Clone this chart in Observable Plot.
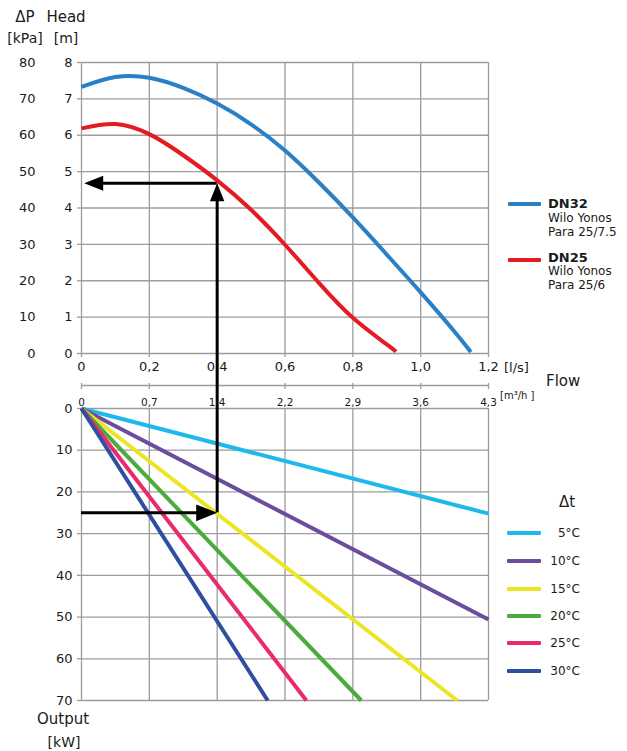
<!DOCTYPE html>
<html><head><meta charset="utf-8">
<script src="https://cdn.jsdelivr.net/npm/d3@7"></script>
<script src="https://cdn.jsdelivr.net/npm/@observablehq/plot@0.6"></script>
<style>
body{margin:0;background:#fff;}
#wrap{position:relative;width:627px;height:751px;font-family:"DejaVu Sans",sans-serif;color:#1a1a1a;overflow:hidden;background:#fff}
#wrap svg{position:absolute;left:0;overflow:visible}
.t{position:absolute;white-space:nowrap;line-height:1}
.sw{position:absolute;height:4px;border-radius:1px}
</style></head><body><div id="wrap"></div>
<script>
// ---------- data ----------
const flowTicks = [0, 0.2, 0.4, 0.6, 0.8, 1.0, 1.2];
const flowLabels = ["0", "0,2", "0,4", "0,6", "0,8", "1,0", "1,2"];
const m3hLabels = ["0", "0,7", "1,4", "2,2", "2,9", "3,6", "4,3"];
const headTicks = [0, 1, 2, 3, 4, 5, 6, 7, 8];
const kpaLabels = ["0", "10", "20", "30", "40", "50", "60", "70", "80"];
const outputTicks = [0, 10, 20, 30, 40, 50, 60, 70];

// DN32 Wilo Yonos Para 25/7.5
const dn32Flow = [0, 0.1, 0.2, 0.3, 0.4, 0.5, 0.6, 0.7, 0.8, 0.9, 1.0, 1.1, 1.148];
const dn32Head = [7.33, 7.6, 7.58, 7.3, 6.87, 6.3, 5.58, 4.7, 3.74, 2.72, 1.68, 0.6, 0.04];
// DN25 Wilo Yonos Para 25/6
const dn25Flow = [0, 0.1, 0.2, 0.3, 0.4, 0.5, 0.6, 0.7, 0.8, 0.9, 0.927];
const dn25Head = [6.19, 6.31, 6.03, 5.45, 4.76, 3.95, 2.99, 1.94, 0.98, 0.25, 0.05];

// Output lines per Δt (start at origin, end point)
const dtLabels = ["5°C", "10°C", "15°C", "20°C", "25°C", "30°C"];
const dtEndFlow = [1.2, 1.2, 1.108, 0.825, 0.663, 0.549];
const dtEndOutput = [25.2, 50.6, 70, 70, 70, 70];

// Example duty point
const dutyFlow = 0.4;
const dutyHead = 4.68;
const dutyOutput = 25;

// ---------- styles ----------
const dtColors = ["#1fb8ec", "#6b4d9e", "#ebe524", "#4bab3d", "#ea2a6e", "#2e4f9f"];
const blueColor = "#2a80c6";
const redColor = "#e31b23";
const gridColor = "#9c9c9c";
const FONT = "DejaVu Sans";

const arrowHead = {
  draw(ctx, size) {
    const L = Math.sqrt(size / Math.PI);
    ctx.moveTo(0, 0);
    ctx.lineTo(-0.4 * L, L);
    ctx.lineTo(0.4 * L, L);
    ctx.closePath();
  }
};

const wrap = document.getElementById("wrap");

// ---------- top chart ----------
const dn32 = dn32Flow.map((f, i) => ({flow: f, head: dn32Head[i]}));
const dn25 = dn25Flow.map((f, i) => ({flow: f, head: dn25Head[i]}));
const gridOpts = {stroke: gridColor, strokeOpacity: 1, strokeWidth: 1.3};

const top1 = Plot.plot({
  width: 627, height: 378,
  marginLeft: 81, marginRight: 139, marginTop: 62, marginBottom: 25,
  x: {domain: [0, 1.2], label: null},
  y: {domain: [0, 8], label: null},
  style: {fontFamily: FONT, fontSize: "13px", color: "#1a1a1a", background: "transparent", overflow: "visible"},
  marks: [
    Plot.gridX(flowTicks, gridOpts),
    Plot.gridY(headTicks, gridOpts),
    Plot.axisX(flowTicks, {anchor: "bottom", tickSize: 4, tickPadding: 4, stroke: gridColor, strokeWidth: 1.3,
      tickFormat: d => flowLabels[flowTicks.indexOf(d)], fontSize: 13, label: null}),
    Plot.axisY(headTicks, {anchor: "left", tickSize: 4, tickPadding: 5, stroke: gridColor, strokeWidth: 1.3, fontSize: 13, label: null}),
    Plot.text(headTicks, {y: d => d, text: (d, i) => kpaLabels[i], frameAnchor: "left", textAnchor: "end", dx: -46, fontSize: 13}),
    Plot.line(dn32, {x: "flow", y: "head", stroke: blueColor, strokeWidth: 4, curve: "natural", strokeLinecap: "butt"}),
    Plot.line(dn25, {x: "flow", y: "head", stroke: redColor, strokeWidth: 4, curve: "natural", strokeLinecap: "butt"}),
    Plot.ruleY([dutyHead], {x1: 0.03, x2: dutyFlow, stroke: "black", strokeWidth: 3}),
    Plot.ruleX([dutyFlow], {y1: 0, y2: dutyHead - 0.2, stroke: "black", strokeWidth: 3}),
    Plot.dot([{flow: 0.008, head: dutyHead}], {x: "flow", y: "head", symbol: arrowHead, r: 19, rotate: -90, fill: "black", stroke: "none"}),
    Plot.dot([{flow: dutyFlow, head: dutyHead}], {x: "flow", y: "head", symbol: arrowHead, r: 18, rotate: 0, fill: "black", stroke: "none"})
  ]
});
top1.style.top = "0px";
wrap.appendChild(top1);

// ---------- bottom chart ----------
const bH = 398, bTop = 55, bBottom = 51;
const gapTop = -bTop * 70 / (bH - bTop - bBottom);
const dtRows = dtLabels.flatMap((dt, i) => [
  {dt, flow: 0, out: 0},
  {dt, flow: dtEndFlow[i], out: dtEndOutput[i]}
]);

const bot = Plot.plot({
  width: 627, height: bH,
  marginLeft: 81, marginRight: 139, marginTop: bTop, marginBottom: bBottom,
  x: {domain: [0, 1.2], label: null},
  y: {domain: [0, 70], reverse: true, label: null},
  color: {domain: dtLabels, range: dtColors},
  style: {fontFamily: FONT, fontSize: "13px", color: "#1a1a1a", background: "transparent", overflow: "visible"},
  marks: [
    Plot.gridX(flowTicks, gridOpts),
    Plot.gridY(outputTicks, gridOpts),
    Plot.axisY(outputTicks, {anchor: "left", tickSize: 4, tickPadding: 5, stroke: gridColor, strokeWidth: 1.3, fontSize: 13, label: null}),
    Plot.ruleY([0], {x1: 0, x2: 1.2, dy: -23, stroke: gridColor, strokeWidth: 1.3}),
    Plot.axisX(flowTicks, {anchor: "top", tickSize: 6, dy: -20, stroke: gridColor, strokeWidth: 1.3, tickFormat: () => "", label: null}),
    Plot.text(flowTicks, {x: d => d, text: (d, i) => m3hLabels[i], frameAnchor: "top", dy: -10, fontSize: 10.5}),
    Plot.line(dtRows, {x: "flow", y: "out", z: "dt", stroke: "dt", strokeWidth: 4, strokeLinecap: "butt"}),
    Plot.ruleY([dutyOutput], {x1: 0, x2: dutyFlow - 0.03, stroke: "black", strokeWidth: 3}),
    Plot.ruleX([dutyFlow], {y1: dutyOutput, y2: gapTop, stroke: "black", strokeWidth: 3}),
    Plot.dot([{flow: dutyFlow, out: dutyOutput}], {x: "flow", y: "out", symbol: arrowHead, r: 21, rotate: 90, fill: "black", stroke: "none"})
  ]
});
bot.style.top = "353px";
wrap.appendChild(bot);

// ---------- text & legends ----------
function label(txt, x, y, size, align = "left", weight = "normal") {
  const el = document.createElement("div");
  el.className = "t";
  el.textContent = txt;
  el.style.fontSize = size + "px";
  el.style.fontWeight = weight;
  el.style.top = (y - size * 0.5) + "px";
  if (align === "left") el.style.left = x + "px";
  else if (align === "center") { el.style.left = x + "px"; el.style.transform = "translateX(-50%)"; }
  else el.style.right = (627 - x) + "px";
  wrap.appendChild(el);
}
function swatch(color, x1, x2, y) {
  const el = document.createElement("div");
  el.className = "sw";
  el.style.background = color;
  el.style.left = x1 + "px";
  el.style.width = (x2 - x1) + "px";
  el.style.top = (y - 2) + "px";
  wrap.appendChild(el);
}
label("ΔP", 25, 17, 15, "center");
label("Head", 66, 17, 15, "center");
label("[kPa]", 25, 38, 14, "center");
label("[m]", 66, 38, 14, "center");
label("[l/s]", 504, 367, 13);
label("Flow", 546, 381, 15);
label("[m³/h ]", 500, 396, 10);
label("Output", 63, 719, 15, "center");
label("[kW]", 64, 742, 14, "center");

swatch(blueColor, 508, 541, 204);
label("DN32", 548, 203, 13, "left", "bold");
label("Wilo Yonos", 548, 218, 12);
label("Para 25/7.5", 548, 232, 12);
swatch(redColor, 508, 541, 260);
label("DN25", 548, 257, 13, "left", "bold");
label("Wilo Yonos", 548, 271, 12);
label("Para 25/6", 548, 285, 12);

label("Δt", 567, 502, 15, "center");
const rowY = [533, 561, 589, 616, 643, 671];
dtLabels.forEach((dt, i) => {
  swatch(dtColors[i], 507, 541, rowY[i]);
  label(dt, 580, rowY[i], 12, "right");
});
</script>
</body></html>
